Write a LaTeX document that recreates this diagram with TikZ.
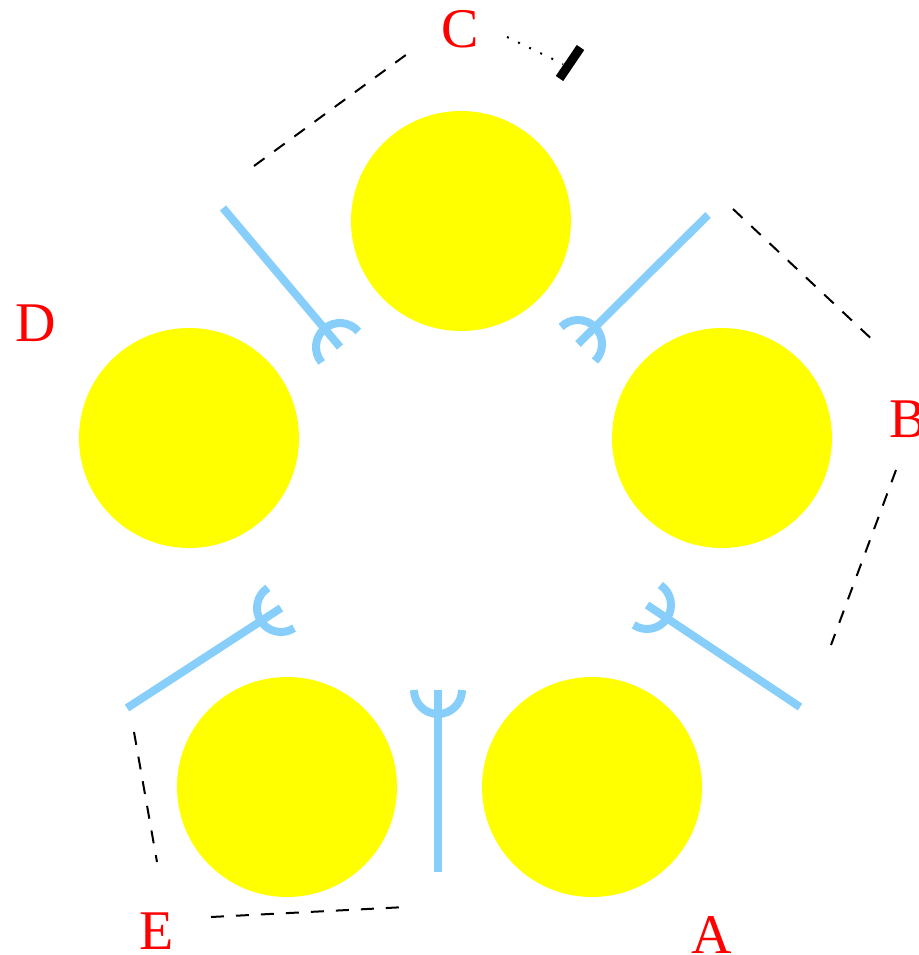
\documentclass[tikz,border=0pt]{standalone}
\usepackage{fontspec}
\setmainfont{Liberation Serif}
\usetikzlibrary{calc}
\definecolor{forkblue}{RGB}{135,206,250}
\definecolor{philyellow}{RGB}{255,255,0}
\definecolor{lblred}{RGB}{255,0,0}
\begin{document}
\begin{tikzpicture}[x=1pt,y=-1pt,
  phil/.style={circle, fill=philyellow, minimum size=220pt, inner sep=0pt, draw=none},
  lbl/.style={text=lblred, font=\fontsize{56}{60}\selectfont, inner sep=0pt},
  forkline/.style={draw=forkblue, line width=8pt},
  edgeline/.style={draw=black, line width=2pt, dash pattern=on 13pt off 12pt},
  dotline/.style={draw=black, line width=2pt, dash pattern=on 2pt off 10.3pt},
  barline/.style={draw=black, line width=9pt},
]
\useasboundingbox (0,0) rectangle (918,955);

% philosophers
\node[phil] (p1) at (461,221) {};
\node[phil] (p2) at (722,438) {};
\node[phil] (p3) at (189,438) {};
\node[phil] (p4) at (287,787) {};
\node[phil] (p5) at (592,787) {};

% labels
\node[lbl] (A) at (712,935) {A};
\node[lbl] (B) at (908,419) {B};
\node[lbl] (C) at (460,29) {C};
\node[lbl] (D) at (36,323) {D};
\node[lbl] (E) at (157,931) {E};

% forks: outer end, inner end, cup
\coordinate (f1o) at (438,872); \coordinate (f1i) at (438,690);
\coordinate (f2o) at (127,708); \coordinate (f2i) at (281,608);
\coordinate (f3o) at (223,208); \coordinate (f3i) at (340,347);
\coordinate (f4o) at (708,215); \coordinate (f4i) at (578,344);
\coordinate (f5o) at (800,707); \coordinate (f5i) at (647,605);

\draw[forkline] (f1o) -- (f1i);
\draw[forkline] ($(f1i)+(0:24)$) arc[start angle=0, delta angle=180, radius=24];
\draw[forkline] (f2o) -- (f2i);
\draw[forkline] ($(f2i)+(57:24)$) arc[start angle=57, delta angle=180, radius=24];
\draw[forkline] (f3o) -- (f3i);
\draw[forkline] ($(f3i)+(139.9:24)$) arc[start angle=139.9, delta angle=180, radius=24];
\draw[forkline] (f4o) -- (f4i);
\draw[forkline] ($(f4i)+(225.2:24)$) arc[start angle=225.2, delta angle=180, radius=24];
\draw[forkline] (f5o) -- (f5i);
\draw[forkline] ($(f5i)+(303.7:24)$) arc[start angle=303.7, delta angle=180, radius=24];

% dashed edges
\coordinate (cd1) at (414,49); \coordinate (cd2) at (254,166);
\coordinate (cb1) at (733,209); \coordinate (cb2) at (878,345);
\coordinate (ba1) at (896,470); \coordinate (ba2) at (831,645);
\coordinate (de1) at (134,732); \coordinate (de2) at (157,862);
\coordinate (ea1) at (211,917); \coordinate (ea2) at (406,907);
\draw[edgeline] (cd2) -- (cd1);
\draw[edgeline] (cb1) -- (cb2);
\draw[edgeline] (ba1) -- (ba2);
\draw[edgeline] (de1) -- (de2);
\draw[edgeline] (ea1) -- (ea2);

% dotted line with bar
\coordinate (dt1) at (507,37); \coordinate (dt2) at (563,64);
\coordinate (bar1) at (559.5,78.5); \coordinate (bar2) at (580.5,47.5);
\draw[dotline] (dt1) -- (dt2);
\draw[barline] (bar1) -- (bar2);
\end{tikzpicture}
\end{document}
